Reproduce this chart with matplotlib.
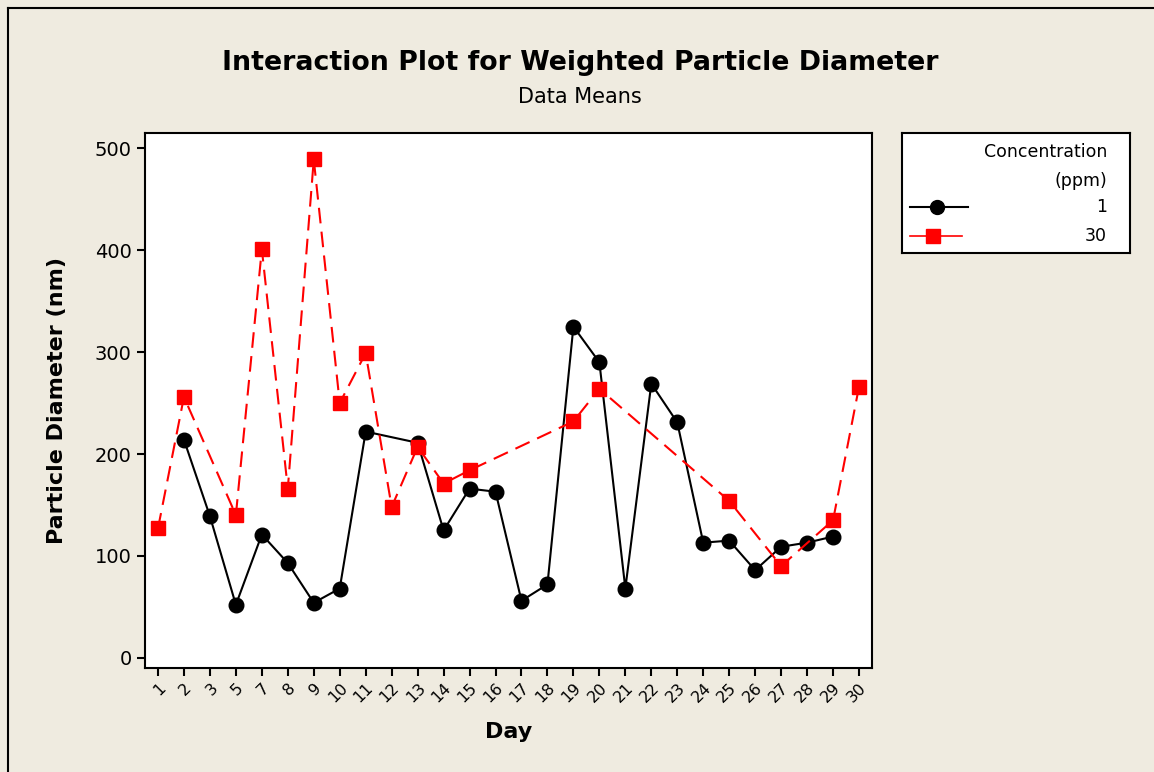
import numpy as np
import matplotlib
matplotlib.use("Agg")
import matplotlib.pyplot as plt
from matplotlib.lines import Line2D

days = ["1", "2", "3", "5", "7", "8", "9", "10", "11", "12", "13", "14", "15", "16",
        "17", "18", "19", "20", "21", "22", "23", "24", "25", "26", "27", "28", "29", "30"]

# Concentration 1 ppm (None = no data for that day)
conc1 = [None, 214, 139, 52, 121, 93, 54, 68, 222, None, 211, 125, 166, 163,
         56, 72, 325, 290, 68, 269, 231, 113, 115, 86, 109, 113, 119, None]
# Concentration 30 ppm
conc30 = [127, 256, None, 140, 401, 166, 489, 250, 299, 148, 207, 171, 184, None,
          None, None, 232, 264, None, None, None, None, 154, None, 90, None, 135, 266]

W, H = 1154, 772
fig = plt.figure(figsize=(W / 100, H / 100), dpi=100)
bg = "#EFEBE0"
fig.patch.set_facecolor(bg)

# outer frame (top and left visible)
fig.add_artist(Line2D([8 / W, 8 / W], [0, 1 - 8 / H], transform=fig.transFigure, color="black", lw=1.5))
fig.add_artist(Line2D([8 / W, 1], [1 - 8 / H, 1 - 8 / H], transform=fig.transFigure, color="black", lw=1.5))

ax_l, ax_r, ax_t, ax_b = 145, 872, 133, 668
ax = fig.add_axes([ax_l / W, 1 - ax_b / H, (ax_r - ax_l) / W, (ax_b - ax_t) / H])
ax.set_facecolor("white")

x = np.arange(len(days))

def pts(vals):
    xs = [i for i, v in enumerate(vals) if v is not None]
    ys = [v for v in vals if v is not None]
    return xs, ys

x1, y1 = pts(conc1)
x30, y30 = pts(conc30)

ax.plot(x1, y1, color="black", lw=1.5, marker="o", markersize=10.5, zorder=3)
ax.plot(x30, y30, color="#FF0000", lw=1.5, ls=(0, (7.5, 4)), marker="s", markersize=10,
        markeredgecolor="#FF0000", markerfacecolor="#FF0000", zorder=3)

ax.set_xlim(-0.5, len(days) - 0.5)
ax.set_ylim(-10, 515)
ax.set_yticks([0, 100, 200, 300, 400, 500])
ax.set_xticks(x)
ax.set_xticklabels(days, rotation=45, ha="right", rotation_mode="anchor", fontsize=11.5)
ax.tick_params(axis="y", labelsize=14, direction="out", length=6, width=1.5)
ax.tick_params(axis="x", direction="out", length=6, width=1.5, pad=3)
ax.tick_params(top=False, right=False)
for s in ax.spines.values():
    s.set_linewidth(1.5)

ax.set_xlabel("Day", fontsize=16, fontweight="bold", labelpad=12)
ax.set_ylabel("Particle Diameter (nm)", fontsize=16, fontweight="bold", labelpad=20)

fig.text(580 / W, 1 - 63 / H, "Interaction Plot for Weighted Particle Diameter",
         ha="center", va="center", fontsize=19.3, fontweight="bold")
fig.text(580 / W, 1 - 97 / H, "Data Means", ha="center", va="center", fontsize=15)

# legend box
lx0, lx1, ly0, ly1 = 902, 1130, 133, 253
lax = fig.add_axes([lx0 / W, 1 - ly1 / H, (lx1 - lx0) / W, (ly1 - ly0) / H])
lax.set_xlim(lx0, lx1)
lax.set_ylim(ly1, ly0)
lax.set_facecolor("white")
lax.set_xticks([])
lax.set_yticks([])
for s in lax.spines.values():
    s.set_linewidth(1.5)
lax.text(1107, 152, "Concentration", ha="right", va="center", fontsize=12.5)
lax.text(1107, 181, "(ppm)", ha="right", va="center", fontsize=12.5)
lax.plot([910, 968], [207, 207], color="black", lw=1.5)
lax.plot([937], [207], color="black", marker="o", markersize=10)
lax.text(1107, 207, "1", ha="right", va="center", fontsize=12.5)
lax.plot([910, 962], [236, 236], color="#FF0000", lw=1.2)
lax.plot([933], [236], color="#FF0000", marker="s", markersize=9.5)
lax.text(1107, 236, "30", ha="right", va="center", fontsize=12.5)

fig.savefig("out.png", dpi=100, facecolor=bg)
